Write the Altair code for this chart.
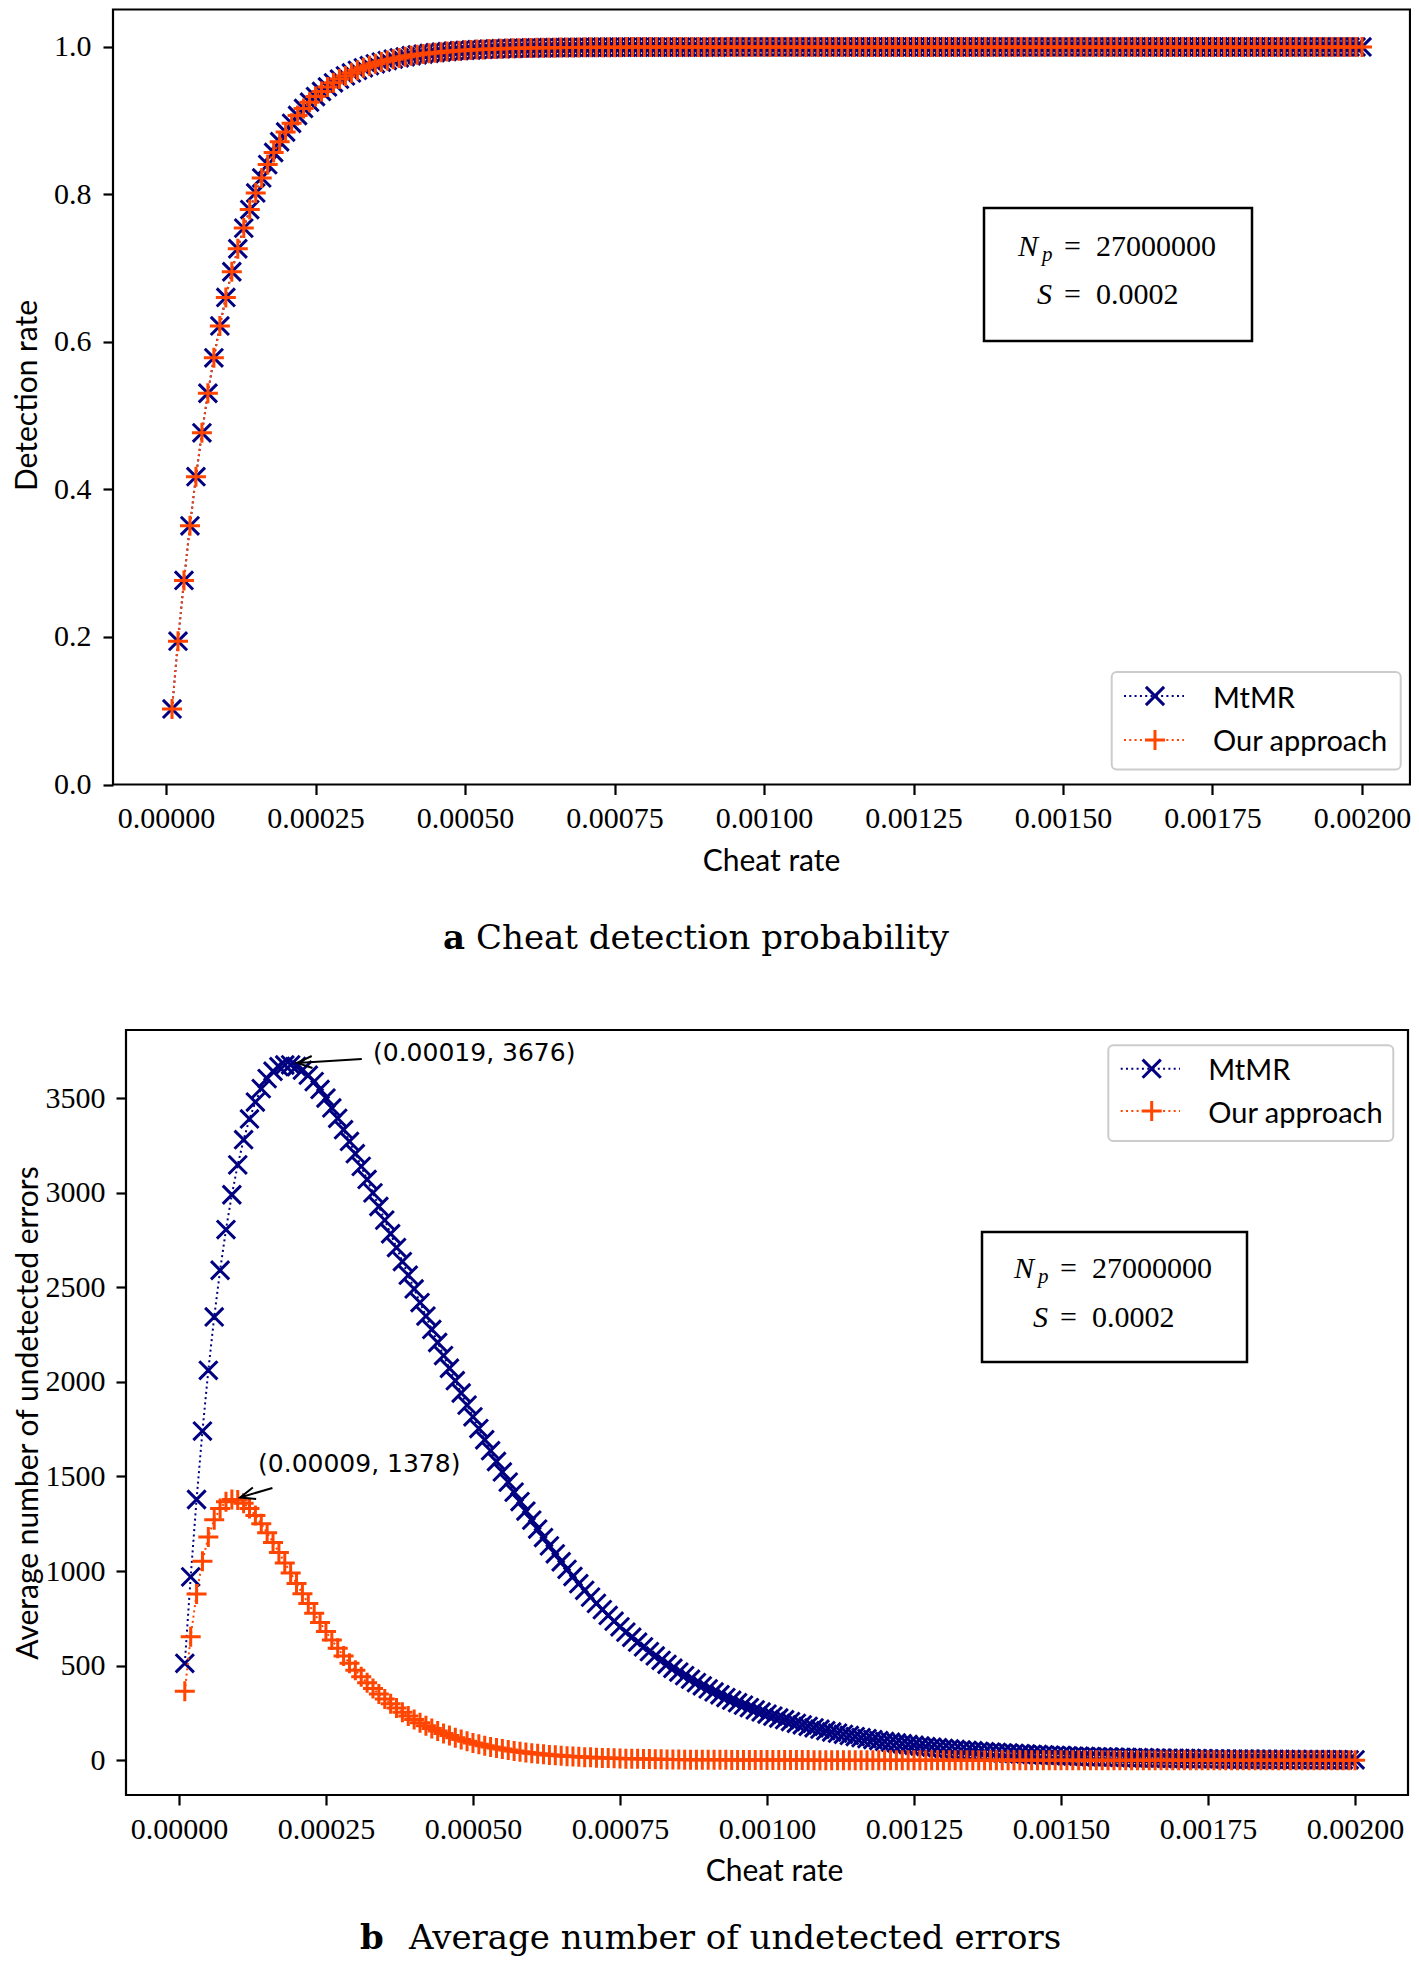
import altair as alt
import pandas as pd

# ---------------- data ----------------
cheat_rate = [round(k * 1e-5, 5) for k in range(1, 201)]

detection_mtmr = [
    0.1024, 0.1943, 0.2767, 0.3508, 0.4173, 0.4769, 0.5305, 0.5785, 0.6217, 0.6604,
    0.6952, 0.7264, 0.7544, 0.7795, 0.8021, 0.8224, 0.8405, 0.8569, 0.8715, 0.8847,
    0.8965, 0.9071, 0.9166, 0.9251, 0.9328, 0.9397, 0.9458, 0.9514, 0.9564, 0.9608,
    0.9648, 0.9684, 0.9717, 0.9746, 0.9772, 0.9795, 0.9816, 0.9835, 0.9852, 0.9867,
    0.9881, 0.9893, 0.9904, 0.9914, 0.9923, 0.9930, 0.9938, 0.9944, 0.9950, 0.9955,
    0.9959, 0.9964, 0.9967, 0.9971, 0.9974, 0.9976, 0.9979, 0.9981, 0.9983, 0.9985,
    0.9986, 0.9988, 0.9989, 0.9990, 0.9991, 0.9992, 0.9993, 0.9994, 0.9994, 0.9995,
    0.9995, 0.9996, 0.9996, 0.9997, 0.9997, 0.9997, 0.9998, 0.9998, 0.9998, 0.9998,
    0.9998, 0.9999, 0.9999, 0.9999, 0.9999, 0.9999, 0.9999, 0.9999, 0.9999, 0.9999,
    0.9999, 0.9999, 1.0, 1.0, 1.0, 1.0, 1.0, 1.0, 1.0, 1.0,
] + [1.0] * 100
detection_ours = list(detection_mtmr)

undetected_mtmr = [
    512, 969, 1378, 1740, 2061, 2343, 2590, 2805, 2989, 3147,
    3280, 3390, 3479, 3550, 3603, 3642, 3666, 3675, 3676, 3667,
    3648, 3621, 3587, 3546, 3500, 3448, 3393, 3333, 3271, 3206,
    3139, 3070, 2999, 2927, 2855, 2783, 2710, 2636, 2564, 2491,
    2419, 2348, 2277, 2208, 2139, 2072, 2006, 1941, 1877, 1815,
    1753, 1694, 1636, 1579, 1524, 1470, 1417, 1367, 1317, 1269,
    1222, 1177, 1133, 1091, 1049, 1009, 971, 933, 898, 862,
    829, 796, 765, 735, 705, 677, 650, 624, 599, 574,
    551, 528, 507, 486, 466, 447, 428, 410, 393, 377,
    361, 346, 331, 317, 304, 291, 278, 266, 255, 244,
    233, 223, 214, 204, 195, 187, 179, 171, 164, 156,
    149, 143, 137, 131, 125, 119, 114, 109, 104, 99,
    95, 91, 87, 83, 79, 75, 72, 69, 66, 63,
    60, 57, 55, 52, 50, 47, 45, 43, 41, 39,
    38, 36, 34, 33, 31, 30, 28, 27, 26, 25,
    23, 22, 21, 20, 19, 18, 18, 17, 16, 15,
    15, 14, 13, 13, 12, 11, 11, 10, 10, 9,
    9, 9, 8, 8, 7, 7, 7, 6, 6, 6,
    6, 5, 5, 5, 5, 4, 4, 4, 4, 4,
    3, 3, 3, 3, 3, 3, 3, 2, 2, 2,
]

undetected_ours = [
    364, 653, 879, 1052, 1180, 1271, 1331, 1366, 1378, 1375,
    1358, 1330, 1293, 1250, 1202, 1151, 1098, 1043, 989, 934,
    880, 828, 777, 728, 680, 635, 592, 551, 512, 476,
    441, 409, 379, 350, 324, 299, 276, 254, 234, 215,
    198, 182, 167, 154, 141, 130, 119, 109, 100, 91,
    84, 77, 70, 64, 59, 54, 49, 45, 41, 37,
    34, 31, 28, 26, 24, 21, 20, 18, 16, 15,
    13, 12, 11, 10, 9, 8, 8, 7, 6, 6,
    5, 5, 4, 4, 4, 3, 3, 3, 2, 2,
    2, 2, 2, 1, 1, 1, 1, 1, 1, 1,
    0.7, 0.6, 0.6, 0.5, 0.5, 0.4, 0.4, 0.3, 0.3, 0.3,
] + [0] * 90

series_names = ["MtMR", "Our approach"]
series_colors = ["#000080", "#ff4500"]

x_ticks = [0.0, 0.00025, 0.0005, 0.00075, 0.001, 0.00125, 0.0015, 0.00175, 0.002]
det_ticks = [0.0, 0.2, 0.4, 0.6, 0.8, 1.0]
err_ticks = [0, 500, 1000, 1500, 2000, 2500, 3000, 3500]

# peak annotations of panel b
ann_label = ["(0.00019, 3676)", "(0.00009, 1378)"]
ann_text_x = [0.00033, 0.0001345]
ann_text_y = [3740, 1566]
ann_tail_x = [0.000311, 0.000159]
ann_tail_y = [3707, 1439]
ann_tip_x = [0.000201, 0.000104]
ann_tip_y = [3686, 1389]
ann_angle = [356.5, 344.0]

# ---------------- layout ----------------
W, H = 1298, 1951
B = 12  # vertical shift of panel b
X_SHAPE = "M-1,-1L1,1M-1,1L1,-1"
P_SHAPE = "M-1,0L1,0M0,-1L0,1"
HEAD = "M2,-0.8L0,0L2,0.8"

xa = alt.Scale(domain=[-0.0000887, 0.0020803], range=[0, 1297], nice=False, zero=False)
ya = alt.Scale(domain=[0, 1.0508], range=[776.5, 1.5], nice=False, zero=False)
xb = alt.Scale(domain=[-0.00009, 0.00209], range=[13, 1295], nice=False, zero=False)
yb = alt.Scale(domain=[-184, 3860], range=[1799 - B, 1034 - B], nice=False, zero=False)

common = dict(domain=False, grid=False, ticks=True, tickColor="black", tickWidth=2.2,
              tickSize=10, labelColor="black", labelFont="Liberation Serif",
              labelFontSize=30, labelFlush=False, labelOverlap=False,
              titleFont="Lato", titleFontSize=30, titleFontWeight="normal",
              titleColor="black", titleBaseline="alphabetic", titleAlign="center")

ax_a_x = alt.Axis(orient="bottom", offset=776.5 - H, values=x_ticks, format=".5f",
                  labelPadding=9, title="Cheat rate", titleX=658, titleY=85.5,
                  titleAngle=0, **common)
ax_a_y = alt.Axis(orient="left", offset=0, values=det_ticks, format=".1f",
                  labelPadding=12, title="Detection rate", titleX=-77, titleY=387,
                  titleAngle=270, **common)
ax_b_x = alt.Axis(orient="bottom", offset=1799 - B - H, values=x_ticks, format=".5f",
                  labelPadding=9, title="Cheat rate", titleX=661, titleY=85.5,
                  titleAngle=0, **common)
ax_b_y = alt.Axis(orient="left", offset=-13, values=err_ticks, format="d",
                  labelPadding=11, title="Average number of undetected errors",
                  titleX=-89, titleY=1416.5 - B, titleAngle=270, **common)

one = pd.DataFrame({"k": [0]})


def series(xs, ys, values, color, shape, size, axx=None, axy=None):
    df = pd.DataFrame({"cheat_rate": cheat_rate, "value": values})
    line = alt.Chart(df).mark_line(color=color, strokeWidth=2, strokeDash=[2, 3.3]).encode(
        x=alt.X("cheat_rate:Q", scale=xs, axis=None),
        y=alt.Y("value:Q", scale=ys, axis=None))
    pts = alt.Chart(df).mark_point(shape=shape, size=size, filled=False, color=color,
                                   strokeWidth=3, opacity=1).encode(
        x=alt.X("cheat_rate:Q", scale=xs, axis=axx),
        y=alt.Y("value:Q", scale=ys, axis=axy))
    return [line, pts]


def txt(s, x, y, font, size, style="normal", weight="normal", align="left"):
    return alt.Chart(one).mark_text(text=s, font=font, fontSize=size, fontStyle=style,
                                    fontWeight=weight, align=align, baseline="alphabetic",
                                    color="black").encode(x=alt.value(x), y=alt.value(y))


def frame(x0, x1, y0, y1):
    return alt.Chart(one).mark_rect(fillOpacity=0, stroke="black", strokeWidth=2.2).encode(
        x=alt.value(x0), x2=alt.value(x1), y=alt.value(y0), y2=alt.value(y1))


def legend(bx0, bx1, by0, by1, lx0, lx1, mx, rows, tx, baselines):
    out = [alt.Chart(one).mark_rect(fill="white", fillOpacity=0.8, stroke="#cccccc",
                                    strokeWidth=2, cornerRadius=5).encode(
        x=alt.value(bx0), x2=alt.value(bx1), y=alt.value(by0), y2=alt.value(by1))]
    shapes = [(X_SHAPE, 330), (P_SHAPE, 400)]
    for i, name in enumerate(series_names):
        c = series_colors[i]
        out.append(alt.Chart(one).mark_rule(color=c, strokeWidth=2, strokeDash=[2, 3.3]).encode(
            x=alt.value(lx0), x2=alt.value(lx1), y=alt.value(rows[i])))
        out.append(alt.Chart(one).mark_point(shape=shapes[i][0], size=shapes[i][1], filled=False,
                                             color=c, strokeWidth=3, opacity=1).encode(
            x=alt.value(mx), y=alt.value(rows[i])))
        out.append(txt(name, tx, baselines[i], "Lato", 29))
    return out


def info_box(x0, x1, y0, y1, dx, b1, b2):
    return [
        alt.Chart(one).mark_rect(fill="white", stroke="black", strokeWidth=2.5).encode(
            x=alt.value(x0), x2=alt.value(x1), y=alt.value(y0), y2=alt.value(y1)),
        txt("N", 905 + dx, b1, "Liberation Serif", 30, style="italic"),
        txt("p", 929 + dx, b1 + 5, "Liberation Serif", 21, style="italic"),
        txt("=", 951 + dx, b1, "Liberation Serif", 30),
        txt("27000000", 983 + dx, b1, "Liberation Serif", 30),
        txt("S", 924 + dx, b2, "Liberation Serif", 30, style="italic"),
        txt("=", 951 + dx, b2, "Liberation Serif", 30),
        txt("0.0002", 983 + dx, b2, "Liberation Serif", 30),
    ]


layers = []
# panel a
layers += series(xa, ya, detection_mtmr, series_colors[0], X_SHAPE, 330, ax_a_x, ax_a_y)
layers += series(xa, ya, detection_ours, series_colors[1], P_SHAPE, 400)
layers.append(frame(0, 1297, 1.5, 776.5))
layers += info_box(871, 1139, 200, 333, 0, 248, 296)
layers += legend(998.7, 1287.7, 664, 761.5, 1011, 1071, 1042, [688, 732], 1100, [699.5, 742.5])
layers.append(txt("a", 330, 940.5, "DejaVu Serif", 34, weight="bold"))
layers.append(txt("Cheat detection probability", 363, 940.5, "DejaVu Serif", 34))

# panel b
layers += series(xb, yb, undetected_mtmr, series_colors[0], X_SHAPE, 330, ax_b_x, ax_b_y)
layers += series(xb, yb, undetected_ours, series_colors[1], P_SHAPE, 400)

ann = pd.DataFrame({"label": ann_label, "tx": ann_text_x, "ty": ann_text_y,
                    "ax": ann_tail_x, "ay": ann_tail_y, "hx": ann_tip_x, "hy": ann_tip_y,
                    "angle": ann_angle})
layers.append(alt.Chart(ann).mark_rule(color="black", strokeWidth=2).encode(
    x=alt.X("ax:Q", scale=xb, axis=None), y=alt.Y("ay:Q", scale=yb, axis=None),
    x2="hx:Q", y2="hy:Q"))
layers.append(alt.Chart(ann).mark_point(shape=HEAD, size=225, filled=False, color="black",
                                        strokeWidth=2, opacity=1).encode(
    x=alt.X("hx:Q", scale=xb, axis=None), y=alt.Y("hy:Q", scale=yb, axis=None),
    angle=alt.Angle("angle:Q", scale=None)))
layers.append(alt.Chart(ann).mark_text(align="left", baseline="middle", font="DejaVu Sans",
                                       fontSize=25, color="black").encode(
    x=alt.X("tx:Q", scale=xb, axis=None), y=alt.Y("ty:Q", scale=yb, axis=None),
    text="label:N"))
layers.append(frame(13, 1295, 1034 - B, 1799 - B))
layers += info_box(869, 1134, 1236 - B, 1366 - B, -4, 1282 - B, 1331 - B)
layers += legend(995.3, 1280.3, 1049.3 - B, 1145 - B, 1007.7, 1067, 1038.7,
                 [1072.7 - B, 1115 - B], 1095.3, [1084 - B, 1126.7 - B])
layers.append(txt("b", 247, 1941, "DejaVu Serif", 34, weight="bold"))
layers.append(txt("Average number of undetected errors", 296, 1941, "DejaVu Serif", 34))

chart = alt.layer(*layers).resolve_scale(x="independent", y="independent").properties(
    width=W, height=H,
    autosize=alt.AutoSizeParams(type="none"),
    padding={"left": 105, "top": 0, "right": 0, "bottom": 0},
).configure_view(stroke=None)

chart.save("out.html", embed_options={"renderer": "svg", "actions": False})
